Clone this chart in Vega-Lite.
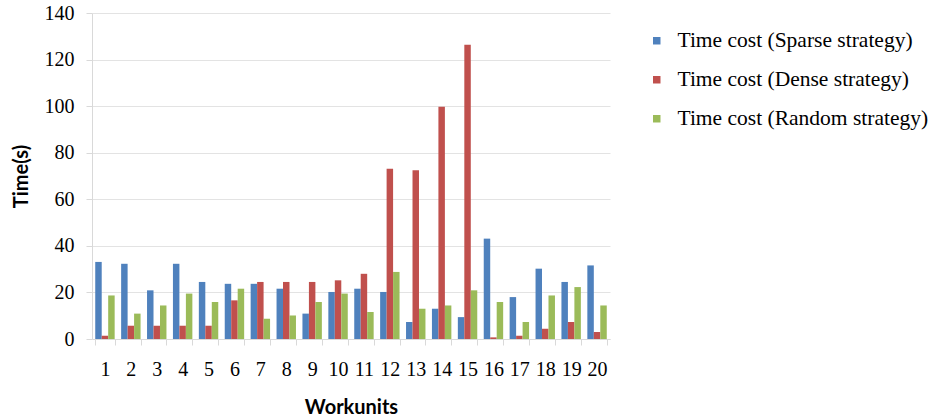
{
  "$schema": "https://vega.github.io/schema/vega-lite/v6.json",
  "width": 518,
  "height": 326,
  "autosize": "none",
  "padding": {"left": 92, "top": 13, "right": 323, "bottom": 79},
  "background": "white",
  "data": {"values": [
    {"wu": "1", "s": "Time cost (Sparse strategy)", "t": 33.1},
    {"wu": "1", "s": "Time cost (Dense strategy)", "t": 1.4},
    {"wu": "1", "s": "Time cost (Random strategy)", "t": 18.7},
    {"wu": "2", "s": "Time cost (Sparse strategy)", "t": 32.3},
    {"wu": "2", "s": "Time cost (Dense strategy)", "t": 5.7},
    {"wu": "2", "s": "Time cost (Random strategy)", "t": 10.9},
    {"wu": "3", "s": "Time cost (Sparse strategy)", "t": 20.9},
    {"wu": "3", "s": "Time cost (Dense strategy)", "t": 5.7},
    {"wu": "3", "s": "Time cost (Random strategy)", "t": 14.4},
    {"wu": "4", "s": "Time cost (Sparse strategy)", "t": 32.3},
    {"wu": "4", "s": "Time cost (Dense strategy)", "t": 5.7},
    {"wu": "4", "s": "Time cost (Random strategy)", "t": 19.5},
    {"wu": "5", "s": "Time cost (Sparse strategy)", "t": 24.5},
    {"wu": "5", "s": "Time cost (Dense strategy)", "t": 5.7},
    {"wu": "5", "s": "Time cost (Random strategy)", "t": 15.9},
    {"wu": "6", "s": "Time cost (Sparse strategy)", "t": 23.7},
    {"wu": "6", "s": "Time cost (Dense strategy)", "t": 16.6},
    {"wu": "6", "s": "Time cost (Random strategy)", "t": 21.6},
    {"wu": "7", "s": "Time cost (Sparse strategy)", "t": 23.7},
    {"wu": "7", "s": "Time cost (Dense strategy)", "t": 24.5},
    {"wu": "7", "s": "Time cost (Random strategy)", "t": 8.7},
    {"wu": "8", "s": "Time cost (Sparse strategy)", "t": 21.6},
    {"wu": "8", "s": "Time cost (Dense strategy)", "t": 24.5},
    {"wu": "8", "s": "Time cost (Random strategy)", "t": 10.1},
    {"wu": "9", "s": "Time cost (Sparse strategy)", "t": 10.9},
    {"wu": "9", "s": "Time cost (Dense strategy)", "t": 24.5},
    {"wu": "9", "s": "Time cost (Random strategy)", "t": 15.9},
    {"wu": "10", "s": "Time cost (Sparse strategy)", "t": 20.2},
    {"wu": "10", "s": "Time cost (Dense strategy)", "t": 25.2},
    {"wu": "10", "s": "Time cost (Random strategy)", "t": 19.5},
    {"wu": "11", "s": "Time cost (Sparse strategy)", "t": 21.6},
    {"wu": "11", "s": "Time cost (Dense strategy)", "t": 28.0},
    {"wu": "11", "s": "Time cost (Random strategy)", "t": 11.6},
    {"wu": "12", "s": "Time cost (Sparse strategy)", "t": 20.2},
    {"wu": "12", "s": "Time cost (Dense strategy)", "t": 73.1},
    {"wu": "12", "s": "Time cost (Random strategy)", "t": 28.8},
    {"wu": "13", "s": "Time cost (Sparse strategy)", "t": 7.3},
    {"wu": "13", "s": "Time cost (Dense strategy)", "t": 72.5},
    {"wu": "13", "s": "Time cost (Random strategy)", "t": 13.0},
    {"wu": "14", "s": "Time cost (Sparse strategy)", "t": 13.0},
    {"wu": "14", "s": "Time cost (Dense strategy)", "t": 99.7},
    {"wu": "14", "s": "Time cost (Random strategy)", "t": 14.4},
    {"wu": "15", "s": "Time cost (Sparse strategy)", "t": 9.4},
    {"wu": "15", "s": "Time cost (Dense strategy)", "t": 126.4},
    {"wu": "15", "s": "Time cost (Random strategy)", "t": 20.9},
    {"wu": "16", "s": "Time cost (Sparse strategy)", "t": 43.1},
    {"wu": "16", "s": "Time cost (Dense strategy)", "t": 0.7},
    {"wu": "16", "s": "Time cost (Random strategy)", "t": 15.9},
    {"wu": "17", "s": "Time cost (Sparse strategy)", "t": 18.0},
    {"wu": "17", "s": "Time cost (Dense strategy)", "t": 1.4},
    {"wu": "17", "s": "Time cost (Random strategy)", "t": 7.3},
    {"wu": "18", "s": "Time cost (Sparse strategy)", "t": 30.2},
    {"wu": "18", "s": "Time cost (Dense strategy)", "t": 4.4},
    {"wu": "18", "s": "Time cost (Random strategy)", "t": 18.7},
    {"wu": "19", "s": "Time cost (Sparse strategy)", "t": 24.5},
    {"wu": "19", "s": "Time cost (Dense strategy)", "t": 7.3},
    {"wu": "19", "s": "Time cost (Random strategy)", "t": 22.3},
    {"wu": "20", "s": "Time cost (Sparse strategy)", "t": 31.6},
    {"wu": "20", "s": "Time cost (Dense strategy)", "t": 3.0},
    {"wu": "20", "s": "Time cost (Random strategy)", "t": 14.4}
  ]},
  "mark": {"type": "bar"},
  "encoding": {
    "x": {
      "field": "wu", "type": "nominal", "sort": null,
      "scale": {"paddingInner": 0.25, "paddingOuter": 0.125},
      "axis": {
        "title": "Workunits", "labelAngle": 0,
        "labelFont": "Liberation Serif", "labelFontSize": 20, "labelColor": "#000000",
        "labelPadding": 14,
        "titleFont": "Lato", "titleFontSize": 20, "titleFontWeight": "bold", "titleColor": "#000000",
        "titlePadding": 18,
        "domainColor": "#d9d9d9", "tickColor": "#d9d9d9", "tickSize": 6, "tickBand": "extent"
      }
    },
    "xOffset": {"field": "s", "type": "nominal", "sort": ["Time cost (Sparse strategy)", "Time cost (Dense strategy)", "Time cost (Random strategy)"]},
    "y": {
      "field": "t", "type": "quantitative",
      "scale": {"domain": [0, 140], "nice": false},
      "axis": {
        "title": "Time(s)", "values": [0, 20, 40, 60, 80, 100, 120, 140],
        "labelFont": "Liberation Serif", "labelFontSize": 20, "labelColor": "#000000",
        "labelPadding": 12,
        "titleFont": "Lato", "titleFontSize": 20, "titleFontWeight": "bold", "titleColor": "#000000",
        "titlePadding": 13,
        "domainColor": "#d9d9d9", "tickColor": "#d9d9d9", "tickSize": 6,
        "gridColor": "#e3e3e3", "grid": true
      }
    },
    "color": {
      "field": "s", "type": "nominal",
      "sort": ["Time cost (Sparse strategy)", "Time cost (Dense strategy)", "Time cost (Random strategy)"],
      "scale": {"domain": ["Time cost (Sparse strategy)", "Time cost (Dense strategy)", "Time cost (Random strategy)"], "range": ["#4F81BD", "#C0504D", "#9BBB59"]},
      "legend": {
        "title": null, "orient": "none", "legendX": 554, "legendY": 17,
        "symbolType": "square", "symbolSize": 56, "symbolStrokeWidth": 0,
        "labelFont": "Liberation Serif", "labelFontSize": 21.5, "labelColor": "#000000",
        "labelOffset": 10, "rowPadding": 16, "labelLimit": 400
      }
    }
  },
  "config": {"view": {"stroke": null}}
}
